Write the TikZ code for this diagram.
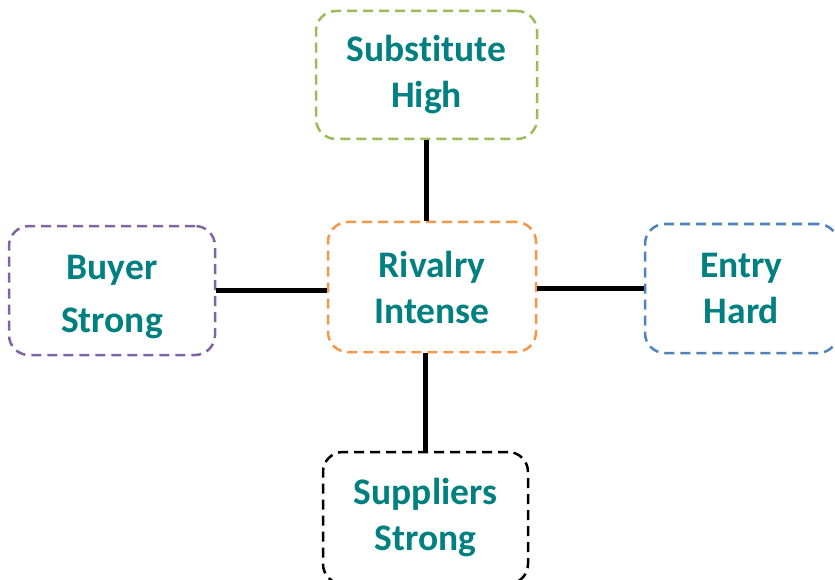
\documentclass[tikz,border=0pt]{standalone}
\usepackage{fontspec}
\setmainfont[Ligatures=NoCommon]{Carlito}
\definecolor{labelteal}{RGB}{0,128,128}
\definecolor{boxgreen}{RGB}{155,187,89}
\definecolor{boxpurple}{RGB}{128,100,162}
\definecolor{boxblue}{RGB}{79,129,189}
\definecolor{boxorange}{RGB}{247,150,70}
\tikzset{
  labeltext/.style={text=labelteal, align=center, inner sep=0pt,
    font=\fontsize{37.5}{46}\selectfont\bfseries},
  forcebox/.style={labeltext, draw, rectangle, rounded corners=20pt, line width=2.5pt,
    dash pattern=on 10pt off 6pt},
  link/.style={line width=4.5pt, black}
}
\begin{document}
\begin{tikzpicture}[x=1pt, y=-1pt]
  \useasboundingbox (0,0) rectangle (835,580);
  \node[forcebox, draw=boxgreen, minimum width=221pt, minimum height=128pt] (subst) at (426.5,75) {Substitute\\High};
  \node[forcebox, draw=boxorange, minimum width=208pt, minimum height=130pt] (rival) at (432,287) {Rivalry\\Intense};
  \node[forcebox, draw=boxpurple, minimum width=206pt, minimum height=129pt] (buyer) at (112,290.5) {};
  \node[labeltext] (buyertext) at (112,297.5) {Buyer\\[7pt]Strong};
  \node[forcebox, draw=boxblue, minimum width=193pt, minimum height=129pt] (entry) at (741.5,288.5) {Entry\\Hard};
  \node[forcebox, draw=black, minimum width=205pt, minimum height=132pt] (suppl) at (425.5,518) {Suppliers\\Strong};
  \draw[link] (subst.south) -- (subst.south |- rival.north);
  \draw[link] (buyer.east) -- (buyer.east -| rival.west);
  \draw[link] (rival.east |- entry.west) -- (entry.west);
  \draw[link] (suppl.north |- rival.south) -- (suppl.north);
\end{tikzpicture}
\end{document}
